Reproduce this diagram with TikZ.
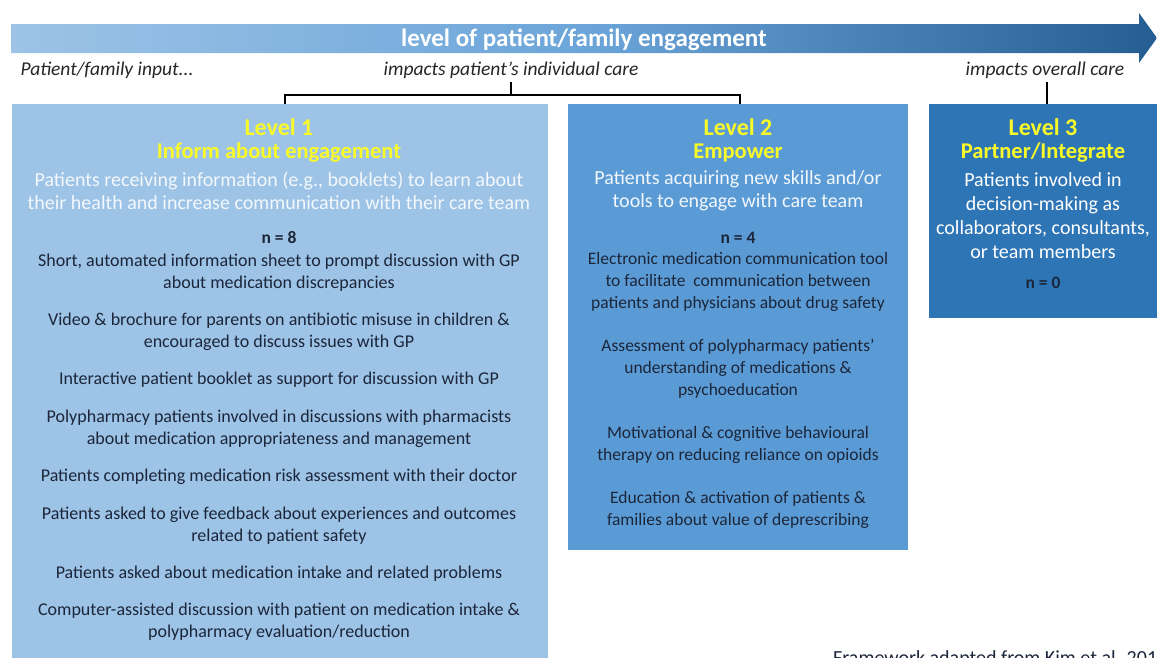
\documentclass[tikz,border=0pt]{standalone}
\usepackage{fontspec}
\setmainfont{Carlito}
\usetikzlibrary{positioning}

\definecolor{lvlone}{RGB}{157,195,230}
\definecolor{lvltwo}{RGB}{91,155,213}
\definecolor{lvlthree}{RGB}{46,117,182}
\definecolor{headyellow}{RGB}{250,250,40}
\definecolor{itemtext}{RGB}{28,38,58}

\begin{document}
\begin{tikzpicture}[x=1pt, y=-1pt,
	levelbox/.style={anchor=north west, inner sep=0pt},
	levelhead/.style={text=headyellow, font=\fontsize{24}{26}\selectfont\bfseries},
	levelsub/.style={text=headyellow, font=\fontsize{22.5}{26}\selectfont\bfseries},
	leveldesc/.style={text=white!88!lvlone, align=center, font=\fontsize{20}{23.5}\selectfont},
	levelcount/.style={text=itemtext, font=\fontsize{17.5}{20}\selectfont\bfseries},
	levelitem/.style={text=itemtext, align=center, font=\fontsize{18}{22}\selectfont},
	sidenote/.style={text=black!85, font=\fontsize{19.5}{22}\selectfont\itshape},
	bracket/.style={line width=1.6pt, black}]
	\clip (0,0) rectangle (1157,657);
	\fill[white] (0,0) rectangle (1157,657);

	% engagement arrow
	\shade[left color=lvlone, right color=lvlthree!80!black, middle color=lvltwo!75!lvlone]
		(11,24) -- (1139,24) -- (1139,13) -- (1157,38) -- (1139,63) -- (1139,53) -- (11,53) -- cycle;
	\node[text=white, font=\fontsize{25}{28}\selectfont\bfseries] (title) at (584,40) {level of patient/family engagement};

	\node[sidenote, anchor=west] (input) at (17,70) {Patient/family input...};
	\node[sidenote] (care1) at (511,70) {impacts patient’s individual care};
	\node[sidenote] (care2) at (1045,70) {impacts overall care};

	% level boxes
	\node[levelbox, fill=lvlone, minimum width=536pt, minimum height=560pt] (box1) at (12,104) {};
	\node[levelbox, fill=lvltwo, minimum width=340pt, minimum height=446pt] (box2) at (568,104) {};
	\node[levelbox, fill=lvlthree, minimum width=240pt, minimum height=214pt] (box3) at (929,104) {};

	\coordinate (b1) at (285,104);
	\coordinate (b2) at (740,104);
	\coordinate (b3) at (1047,104);
	\coordinate (mid) at (511,95);
	\draw[bracket] (care1.south -| mid) -- (mid);
	\draw[bracket] (b1) -- (b1 |- mid) -- (b2 |- mid) -- (b2);
	\draw[bracket] (care2.south -| b3) -- (b3);

	% level 1
	\node[levelhead] (h1) at (279,127) {Level 1};
	\node[levelsub] (s1) at (279,153) {Inform about engagement};
	\node[leveldesc] (d1) at (279,191) {Patients receiving information (e.g., booklets) to learn about\\their health and increase communication with their care team};
	\node[levelcount] (n1) at (279,238) {n = 8};
	\foreach \y/\txt in {
		273/{Short, automated information sheet to prompt discussion with GP\\about medication discrepancies},
		332/{Video \& brochure for parents on antibiotic misuse in children \&\\encouraged to discuss issues with GP},
		380/{Interactive patient booklet as support for discussion with GP},
		429/{Polypharmacy patients involved in discussions with pharmacists\\about medication appropriateness and management},
		477/{Patients completing medication risk assessment with their doctor},
		526/{Patients asked to give feedback about experiences and outcomes\\related to patient safety},
		574/{Patients asked about medication intake and related problems},
		622/{Computer-assisted discussion with patient on medication intake \&\\polypharmacy evaluation/reduction}} {
		\node[levelitem] at (279,\y) {\txt};
	};

	% level 2
	\node[levelhead] (h2) at (738,127) {Level 2};
	\node[levelsub] (s2) at (738,153) {Empower};
	\node[leveldesc, text=white!92!lvltwo] (d2) at (738,191) {Patients acquiring new skills and/or\\tools to engage with care team};
	\node[levelcount] (n2) at (738,238) {n = 4};
	\foreach \y/\txt in {
		282/{Electronic medication communication tool\\to facilitate\ \ communication between\\patients and physicians about drug safety},
		369/{Assessment of polypharmacy patients’\\understanding of medications \&\\psychoeducation},
		445/{Motivational \& cognitive behavioural\\therapy on reducing reliance on opioids},
		510/{Education \& activation of patients \&\\families about value of deprescribing}} {
		\node[levelitem, font=\fontsize{17.5}{22}\selectfont] at (738,\y) {\txt};
	};

	% level 3
	\node[levelhead] (h3) at (1043,127) {Level 3};
	\node[levelsub] (s3) at (1043,153) {Partner/Integrate};
	\node[leveldesc, text=white, font=\fontsize{20}{24}\selectfont] (d3) at (1043,216) {Patients involved in\\decision-making as\\collaborators, consultants,\\or team members};
	\node[levelcount] (n3) at (1043,283) {n = 0};

	\node[text=itemtext, font=\fontsize{20}{22}\selectfont, anchor=base west, inner sep=0pt] (source) at (833,664) {Framework adapted from Kim et al. 201};
\end{tikzpicture}
\end{document}
